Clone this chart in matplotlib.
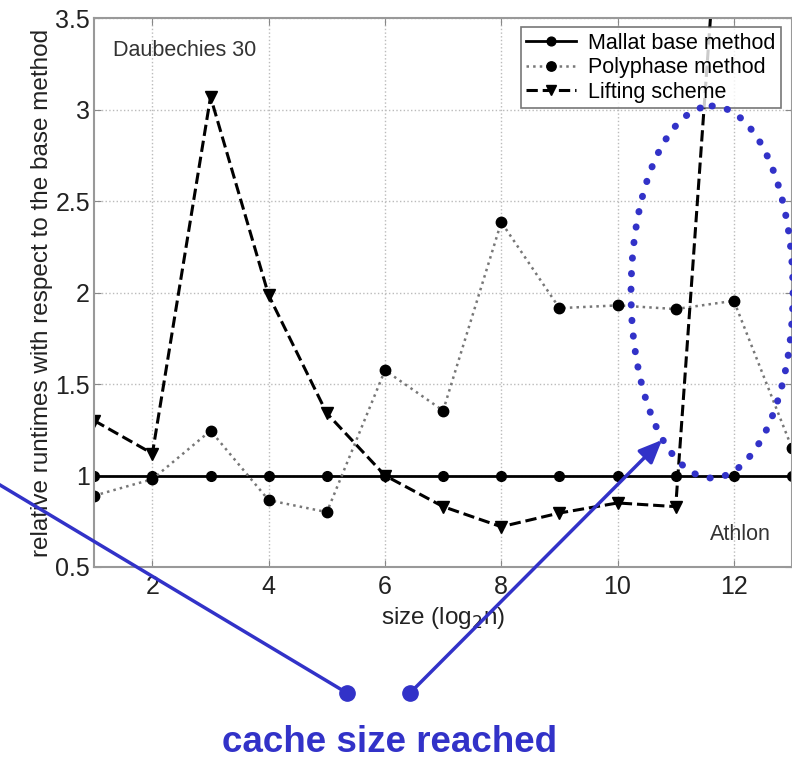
import numpy as np
import matplotlib
matplotlib.use('Agg')
import matplotlib.pyplot as plt
from matplotlib.patches import Ellipse
from matplotlib.ticker import FormatStrFormatter

plt.rcParams['font.family'] = ['Liberation Sans', 'DejaVu Sans']

# data
sizes = [1, 2, 3, 4, 5, 6, 7, 8, 9, 10, 11, 12, 13]
mallat = [1.0] * 13
polyphase = [0.89, 0.98, 1.245, 0.865, 0.80, 1.575, 1.355, 2.385, 1.915, 1.93, 1.91, 1.955, 1.15]
lift_sizes = [1, 2, 3, 4, 5, 6, 7, 8, 9, 10, 11, 12]
lifting = [1.30, 1.12, 3.07, 1.985, 1.34, 1.0, 0.83, 0.72, 0.795, 0.85, 0.83, 5.3]

x_ticks = [2, 4, 6, 8, 10, 12]
y_ticks = [0.5, 1, 1.5, 2, 2.5, 3, 3.5]

blue = '#3232c8'

fig = plt.figure(figsize=(7.92, 7.58), dpi=100)
ax = fig.add_axes([0.119, 0.252, 0.881, 0.724])

ax.plot(sizes, mallat, '-', color='black', lw=2, marker='o', ms=7, label='Mallat base method')
ax.plot(sizes, polyphase, ':', color='#777777', lw=1.8, marker='o', ms=7.5,
        mfc='black', mec='black', label='Polyphase method')
ax.plot(lift_sizes, lifting, '--', color='black', lw=2.2, marker='v', ms=8, label='Lifting scheme')

ax.set_xlim(1, 13)
ax.set_ylim(0.5, 3.5)
ax.set_xticks(x_ticks)
ax.set_yticks(y_ticks)
ax.yaxis.set_major_formatter(FormatStrFormatter('%g'))
ax.tick_params(direction='in', labelsize=18, color='#888888', length=5, top=True, right=True,
               labelcolor='#222222')
ax.tick_params(axis='x', pad=6)
ax.tick_params(axis='y', pad=3)
ax.grid(True, linestyle=':', color='#bbbbbb', lw=1)
for s in ax.spines.values():
    s.set_color('#999999')
    s.set_linewidth(1.5)

ax.set_xlabel('size (log$_2$n)', fontsize=17.5, color='#222222', labelpad=4)
ax.set_ylabel('relative runtimes with respect to the base method', fontsize=17.5, color='#222222', labelpad=2)
ax.text(0.027, 0.96, 'Daubechies 30', transform=ax.transAxes, fontsize=15.5, color='#333333', va='top')
ax.text(0.97, 0.05, 'Athlon', transform=ax.transAxes, fontsize=15.5, color='#333333', ha='right')

leg = ax.legend(loc='upper right', fontsize=15.5, frameon=True, fancybox=False, edgecolor='#555555',
                borderpad=0.25, labelspacing=0.17, handlelength=2.3, handletextpad=0.6, markerscale=0.9,
                bbox_to_anchor=(1.0, 1.003))
leg.get_frame().set_linewidth(1.2)

# annotation overlay in pixel coordinates
ov = fig.add_axes([0, 0, 1, 1], zorder=5)
ov.set_xlim(0, 792)
ov.set_ylim(758, 0)
ov.axis('off')

ov.add_patch(Ellipse((712, 292), 162, 372, fill=False, edgecolor=blue, lw=5,
                     linestyle=(0, (0.05, 2.2)), capstyle='round'))
ov.plot([0, 347], [485, 693], color=blue, lw=2.5)
ov.annotate('', xy=(664, 438), xytext=(410, 693),
            arrowprops=dict(arrowstyle='-|>,head_length=1.4,head_width=0.6', color=blue, lw=2.5))
ov.plot([347, 410], [693, 693], 'o', color=blue, ms=11)
ov.text(390, 742, 'cache size reached', color=blue, fontsize=26.5, fontweight='bold',
        ha='center', va='center')

fig.savefig('out.png', dpi=100)
